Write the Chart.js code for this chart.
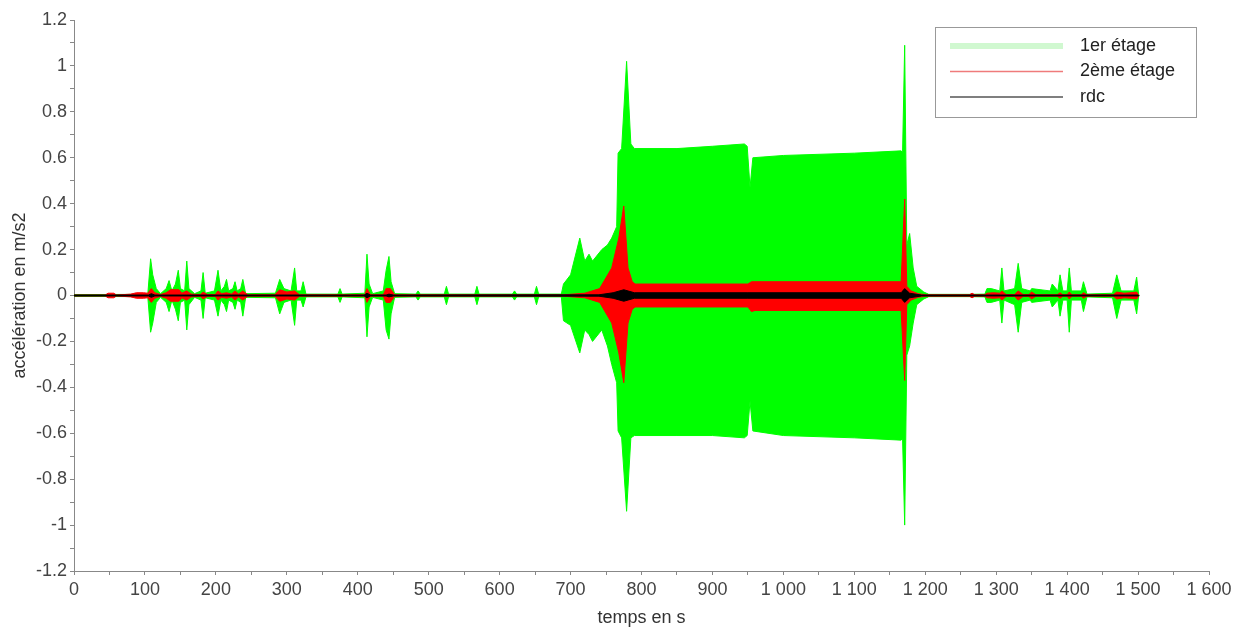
<!DOCTYPE html>
<html>
<head>
<meta charset="utf-8">
<script src="https://cdn.jsdelivr.net/npm/chart.js@4.4.1/dist/chart.umd.min.js"></script>
<style>
  html, body { margin: 0; padding: 0; background: #ffffff; }
  #wrap { width: 1243px; height: 627px; position: relative; }
</style>
</head>
<body>
<div id="wrap"><canvas id="c"></canvas></div>
<script>
// ---- Data (envelopes) ----
const seriesLabels = ['1er étage', '2ème étage', 'rdc'];

// 1er étage (green) : time, upper envelope, lower envelope
const t1er = [0,104,108,111,116,122,130,134,138,143,147,150,156,159,162,170,179,182,185,198,203,207,212,215,218,224,227,230,235,238,242,284,290,296,306,311,314,320,323,327,372,375,378,410,413,416,421,436,440,444,447,452,482,485,488,522,525,528,565,568,571,618,621,624,649,652,655,687,690,700,713,720,726,731,744,752,758,765,767,772,779,785,790,850,900,945,949,953,957,1000,1100,1166,1168,1171,1174,1178,1183,1188,1198,1205,1262,1284,1287,1293,1305,1308,1311,1326,1331,1336,1348,1350,1376,1379,1387,1390,1394,1400,1403,1406,1420,1423,1428,1464,1470,1476,1494,1498,1501];
const max1er = [0.004,0.005,0.16,0.09,0.03,0.008,0.03,0.065,0.02,0.05,0.11,0.03,0.02,0.15,0.03,0.008,0.02,0.10,0.01,0.02,0.11,0.02,0.04,0.07,0.02,0.03,0.06,0.02,0.03,0.07,0.008,0.01,0.07,0.03,0.02,0.12,0.02,0.02,0.06,0.006,0.006,0.03,0.006,0.01,0.18,0.05,0.008,0.02,0.11,0.17,0.06,0.008,0.006,0.02,0.006,0.006,0.04,0.006,0.006,0.04,0.006,0.006,0.02,0.006,0.006,0.04,0.006,0.006,0.05,0.09,0.25,0.15,0.18,0.15,0.20,0.22,0.25,0.30,0.62,0.64,1.02,0.66,0.64,0.64,0.65,0.66,0.65,0.47,0.60,0.61,0.62,0.63,0.62,1.09,0.22,0.27,0.12,0.04,0.015,0.005,0.005,0.006,0.03,0.03,0.02,0.12,0.02,0.03,0.14,0.03,0.02,0.03,0.02,0.05,0.02,0.09,0.02,0.02,0.12,0.02,0.02,0.06,0.006,0.01,0.09,0.02,0.02,0.08,0.0];
const min1er = [-0.004,-0.005,-0.16,-0.12,-0.03,-0.008,-0.03,-0.07,-0.02,-0.06,-0.11,-0.03,-0.02,-0.15,-0.04,-0.008,-0.02,-0.10,-0.01,-0.02,-0.09,-0.02,-0.04,-0.07,-0.02,-0.03,-0.06,-0.02,-0.03,-0.09,-0.008,-0.01,-0.08,-0.03,-0.02,-0.13,-0.02,-0.02,-0.05,-0.006,-0.006,-0.03,-0.006,-0.01,-0.18,-0.05,-0.008,-0.02,-0.15,-0.19,-0.08,-0.008,-0.006,-0.02,-0.006,-0.006,-0.04,-0.006,-0.006,-0.04,-0.006,-0.006,-0.02,-0.006,-0.006,-0.04,-0.006,-0.006,-0.11,-0.13,-0.25,-0.15,-0.17,-0.20,-0.15,-0.22,-0.30,-0.38,-0.59,-0.62,-0.94,-0.62,-0.61,-0.61,-0.61,-0.62,-0.61,-0.46,-0.59,-0.61,-0.62,-0.63,-0.62,-1.00,-0.26,-0.22,-0.12,-0.04,-0.015,-0.005,-0.005,-0.006,-0.03,-0.03,-0.02,-0.12,-0.02,-0.04,-0.16,-0.03,-0.02,-0.03,-0.02,-0.05,-0.02,-0.09,-0.02,-0.02,-0.16,-0.02,-0.02,-0.07,-0.006,-0.01,-0.10,-0.02,-0.02,-0.08,0.0];

// 2ème étage (red)
const t2eme = [0,44,48,56,60,80,88,98,104,109,114,122,130,136,148,152,159,165,178,182,188,199,203,208,215,222,227,232,238,245,283,290,300,311,318,410,413,418,436,440,446,452,690,720,741,758,768,775,781,787,791,950,955,960,1166,1171,1174,1180,1190,1200,1262,1266,1270,1284,1287,1296,1305,1308,1314,1326,1331,1338,1346,1350,1356,1386,1390,1394,1400,1403,1407,1420,1423,1428,1465,1470,1480,1490,1498,1501];
const max2eme = [0.002,0.002,0.01,0.01,0.002,0.006,0.012,0.012,0.01,0.03,0.012,0.004,0.012,0.025,0.025,0.01,0.02,0.006,0.004,0.015,0.004,0.004,0.02,0.008,0.012,0.006,0.02,0.006,0.02,0.003,0.003,0.025,0.015,0.02,0.003,0.003,0.03,0.003,0.003,0.03,0.03,0.003,0.003,0.01,0.03,0.12,0.25,0.39,0.12,0.06,0.05,0.05,0.06,0.06,0.06,0.42,0.04,0.02,0.008,0.003,0.003,0.01,0.003,0.003,0.01,0.012,0.01,0.02,0.004,0.004,0.02,0.004,0.004,0.015,0.003,0.003,0.012,0.003,0.003,0.015,0.003,0.003,0.012,0.003,0.003,0.015,0.01,0.012,0.015,0.0];
const min2eme = [-0.002,-0.002,-0.01,-0.01,-0.002,-0.006,-0.012,-0.012,-0.01,-0.03,-0.012,-0.004,-0.012,-0.025,-0.025,-0.01,-0.02,-0.006,-0.004,-0.015,-0.004,-0.004,-0.02,-0.008,-0.012,-0.006,-0.02,-0.006,-0.02,-0.003,-0.003,-0.025,-0.015,-0.02,-0.003,-0.003,-0.03,-0.003,-0.003,-0.03,-0.03,-0.003,-0.003,-0.01,-0.03,-0.12,-0.25,-0.38,-0.12,-0.06,-0.05,-0.05,-0.07,-0.065,-0.065,-0.37,-0.04,-0.02,-0.008,-0.003,-0.003,-0.01,-0.003,-0.003,-0.01,-0.012,-0.01,-0.02,-0.004,-0.004,-0.02,-0.004,-0.004,-0.015,-0.003,-0.003,-0.012,-0.003,-0.003,-0.015,-0.003,-0.003,-0.012,-0.003,-0.003,-0.015,-0.01,-0.012,-0.015,0.0];

// rdc (black)
const tRdc = [0,105,109,114,409,413,418,440,444,450,740,760,775,790,950,1166,1171,1178,1195,1500,1501];
const maxRdc = [0.002,0.002,0.008,0.002,0.002,0.01,0.002,0.002,0.006,0.002,0.003,0.012,0.025,0.012,0.012,0.012,0.03,0.01,0.002,0.002,0.0];
const minRdc = [-0.002,-0.002,-0.008,-0.002,-0.002,-0.01,-0.002,-0.002,-0.006,-0.002,-0.003,-0.012,-0.025,-0.012,-0.012,-0.012,-0.03,-0.01,-0.002,-0.002,0.0];

// Axis ranges / tick steps
const xMin = 0, xMax = 1600, xMajor = 100, xMinor = 50;
const yMin = -1.2, yMax = 1.2, yMajor = 0.2, yMinor = 0.1;

const colors = ['#00ff00', '#ff0000', '#000000'];
const legendSample = ['rgba(120,235,120,0.35)', 'rgba(235,90,90,0.8)', '#555555'];
const legendSampleWidth = [6, 1.5, 1.5];

function pts(t, v) { return t.map((x, i) => ({ x: x, y: v[i] })); }

function band(label, t, up, lo, color, order) {
  return [
    { label: label, data: pts(t, up), borderColor: color, backgroundColor: color, borderWidth: 1,
      pointRadius: 0, tension: 0, fill: '+1', order: order, isUpper: true },
    { label: label + ' (min)', data: pts(t, lo), borderColor: color, backgroundColor: color, borderWidth: 1,
      pointRadius: 0, tension: 0, fill: false, order: order, isUpper: false }
  ];
}

const datasets = [].concat(
  band(seriesLabels[0], t1er, max1er, min1er, colors[0], 3),
  band(seriesLabels[1], t2eme, max2eme, min2eme, colors[1], 2),
  band(seriesLabels[2], tRdc, maxRdc, minRdc, colors[2], 1)
);

const FONT = 'Liberation Sans, Arial, sans-serif';

function fmtX(v) {
  if (v % xMajor !== 0) return '';
  if (v >= 1000) {
    const th = Math.floor(v / 1000), r = v % 1000;
    return th + ' ' + String(r).padStart(3, '0');
  }
  return String(v);
}
function fmtY(v) {
  const r = Math.round(v * 10);
  if (r % 2 !== 0) return '';
  const s = +(r / 10).toFixed(1);
  return String(s);
}

const boxLegend = {
  id: 'boxLegend',
  afterDatasetsDraw(chart) {
    const ctx = chart.ctx;
    const x0 = 935, y0 = 27, w = 261, h = 90;
    ctx.save();
    ctx.fillStyle = '#ffffff';
    ctx.fillRect(x0, y0, w, h);
    ctx.strokeStyle = '#999999';
    ctx.lineWidth = 1;
    ctx.strokeRect(x0 + 0.5, y0 + 0.5, w, h);
    const uppers = chart.data.datasets.filter(d => d.isUpper);
    uppers.forEach((d, i) => {
      const y = 46 + i * 25.5;
      ctx.strokeStyle = legendSample[i];
      ctx.lineWidth = legendSampleWidth[i];
      ctx.beginPath();
      ctx.moveTo(950, y);
      ctx.lineTo(1063, y);
      ctx.stroke();
      ctx.fillStyle = '#222222';
      ctx.font = '18px ' + FONT;
      ctx.textBaseline = 'middle';
      ctx.textAlign = 'left';
      ctx.fillText(d.label, 1080, y);
    });
    ctx.restore();
  }
};

new Chart(document.getElementById('c'), {
  type: 'line',
  data: { datasets: datasets },
  options: {
    responsive: true,
    maintainAspectRatio: false,
    animation: false,
    events: [],
    layout: { padding: { top: 20, right: 34, bottom: 0, left: 0 } },
    plugins: {
      legend: { display: false },
      tooltip: { enabled: false },
      filler: { propagate: false }
    },
    scales: {
      x: {
        type: 'linear', min: xMin, max: xMax,
        afterFit(s) { s.height = 56; },
        ticks: { stepSize: xMinor, autoSkip: false, maxRotation: 0, padding: 4,
          color: '#444444', font: { family: FONT, size: 18 }, callback: fmtX },
        grid: { drawOnChartArea: false, drawTicks: true, tickLength: 4, color: '#888888' },
        border: { color: '#888888', width: 1 },
        title: { display: true, text: 'temps en s', color: '#333333',
          font: { family: FONT, size: 18, lineHeight: 1 }, padding: { top: 0, bottom: 0 } }
      },
      y: {
        type: 'linear', min: yMin, max: yMax,
        afterFit(s) { s.width = 74; },
        ticks: { stepSize: yMinor, autoSkip: false, padding: 3,
          color: '#444444', font: { family: FONT, size: 18 }, callback: fmtY },
        grid: { drawOnChartArea: false, drawTicks: true, tickLength: 4, color: '#888888' },
        border: { color: '#888888', width: 1 },
        title: { display: true, text: 'accélération en m/s2', color: '#333333',
          font: { family: FONT, size: 18, lineHeight: 1 }, padding: { top: 11, bottom: 0 } }
      }
    }
  },
  plugins: [boxLegend]
});
</script>
</body>
</html>
